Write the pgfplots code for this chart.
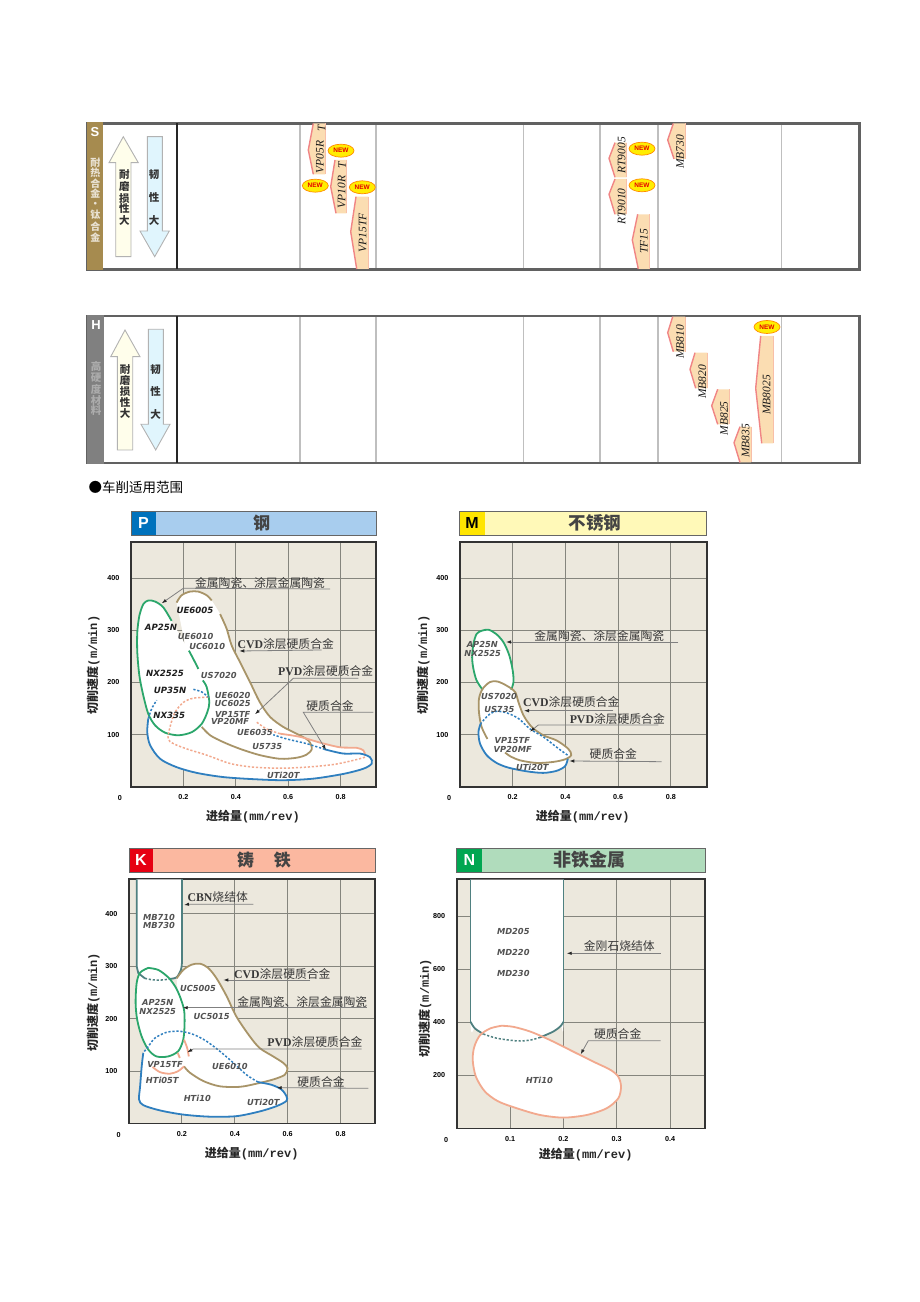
\documentclass[border=0pt]{standalone}
\usepackage{fontspec}
\setmainfont{Liberation Sans}
\newfontfamily\cjk{Noto Sans CJK SC}
\newfontfamily\model{DejaVu Sans}
\newfontfamily\lser{Liberation Serif}
\newfontfamily\lmono{Liberation Mono}
\usepackage{pgfplots}
\pgfplotsset{compat=1.18}
\usetikzlibrary{arrows.meta}

\definecolor{plotbg}{HTML}{ECE8DD}
\definecolor{cgreen}{HTML}{2BA66B}
\definecolor{cbrown}{HTML}{A89468}
\definecolor{cblue}{HTML}{2F7FBF}
\definecolor{csalmon}{HTML}{F2A98E}
\definecolor{cteal}{HTML}{4F8080}
\definecolor{cframe}{HTML}{333333}
\definecolor{cgrid}{HTML}{85857D}
\definecolor{ctext}{HTML}{444444}
\definecolor{bandfill}{HTML}{FBDDB2}
\definecolor{bandedge}{HTML}{F08585}
\definecolor{bandlight}{HTML}{F8BFA8}
\definecolor{sband}{HTML}{A68B4F}
\definecolor{hband}{HTML}{808080}
\definecolor{pbar}{HTML}{A8CDEE}
\definecolor{psq}{HTML}{0072BC}
\definecolor{mbar}{HTML}{FFF9B8}
\definecolor{msq}{HTML}{FFE500}
\definecolor{kbar}{HTML}{FBB8A0}
\definecolor{ksq}{HTML}{E60012}
\definecolor{nbar}{HTML}{B0DCBC}
\definecolor{nsq}{HTML}{00A651}

\pgfplotsset{
  rangeplot/.style={
    scale only axis, axis background/.style={fill=plotbg},
    xmin=0, ymin=0, grid=major,
    grid style={color=cgrid, line width=1pt},
    axis line style={color=cframe, line width=1.8pt},
    major tick length=0pt,
    tick label style={font=\bfseries\fontsize{7.2}{8}\selectfont, color=black},
    xticklabel style={yshift=-4pt},
    yticklabel style={xshift=-8pt},
  },
  barpanel/.style={
    scale only axis, y dir=reverse, xmin=87.5, xmax=859.5,
    xtick={300,376,523.5,600,658,781.5}, xticklabels={}, ytick=\empty,
    grid=major, grid style={color=black!25, line width=1.2pt},
    extra x ticks={177}, extra x tick labels={},
    extra x tick style={grid style={color=black!85, line width=1.2pt}},
    major tick length=0pt,
    axis line style={color=black!62, line width=2.2pt},
  },
  area/.style={fill=white, draw=none, smooth},
  solidc/.style={smooth, line width=1.8pt, color=#1},
  dashc/.style={smooth, line width=1.5pt, color=#1, dash pattern=on 2.2pt off 1.8pt},
}

% one range bar of the top panels: left edge xa,xb,xc at ya,yb,yc, right edge xr
\newcommand\band[7]{%
  \addplot[fill=bandfill, draw=none] coordinates {(#1,#5) (#2,#6) (#3,#7) (#4,#7) (#4,#5)};
  \addplot[color=bandedge, line width=1.4pt] coordinates {(#1,#5) (#2,#6) (#3,#7)};
  \addplot[color=bandlight, line width=1pt] coordinates {(#4,#5) (#4,#7)};
}

\newcommand\mb[3]{\node[font=\model\bfseries\itshape\fontsize{8.6}{9}\selectfont, color=black!88] at (#1,#2) {#3};}
\newcommand\mr[3]{\node[font=\model\bfseries\itshape\fontsize{8.3}{9}\selectfont, color=black!68] at (#1,#2) {#3};}
\newcommand\cn[3]{\node[font=\cjk\fontsize{11.8}{12}\selectfont, color=black!78] at (#1,#2) {#3};}
\newcommand\cvd{{\lser\bfseries CVD}涂层硬质合金}
\newcommand\pvd{{\lser\bfseries PVD}涂层硬质合金}
\newcommand\cermet{金属陶瓷、涂层金属陶瓷}
\newcommand\xl[2]{\node[font=\cjk\bfseries\fontsize{12}{13}\selectfont, color=black!85] at (#1,#2) {进给量{\lmono\bfseries(mm/rev)}};}
\newcommand\yl[2]{\node[font=\cjk\bfseries\fontsize{12}{13}\selectfont, rotate=90, color=black!85] at (#1,#2) {切削速度{\lmono\bfseries(m/min)}};}
\newcommand\nw[2]{%
  \fill[color=yellow!95!orange, draw=orange!90!yellow, line width=0.7pt] (#1,#2) ellipse (13 and 6.5);
  \node[font=\bfseries\fontsize{6.5}{6}\selectfont, color=red!90!black, inner sep=0pt] at (#1,#2) {NEW};
}
\newcommand\rt[3]{\node[font=\lser\itshape\fontsize{11.5}{12}\selectfont, rotate=90, color=black!90, inner sep=0pt] at (#1,#2) {#3};}

\begin{document}
\begin{tikzpicture}
\path (0,0) rectangle (920pt,1302pt);

% ---- S panel ----
\begin{axis}[barpanel, at={(87.5pt,1032.5pt)}, anchor=south west, width=772pt, height=146pt, ymin=123.5, ymax=269.5]
\band{313.3}{308.3}{313.3}{325}{123.5}{150}{174.3}
\band{335}{330.7}{336}{346.7}{160}{186.7}{213.3}
\band{356}{350.7}{356.7}{368.3}{196.7}{231.7}{269}
\band{615}{609}{615}{626.7}{142.7}{158.3}{177.3}
\band{615}{609}{615}{626.7}{179}{194.3}{214.3}
\band{637.7}{632.3}{638.3}{649.3}{214.3}{240}{269}
\band{673.3}{667.7}{674}{685}{123.5}{140}{159}
\end{axis}

% ---- H panel ----
\begin{axis}[barpanel, at={(87.5pt,839pt)}, anchor=south west, width=772pt, height=147pt, ymin=316, ymax=463]
\band{672.7}{667.7}{673.3}{685}{316.7}{332.7}{351.7}
\band{695}{690}{695.7}{707.3}{352.7}{369.3}{388.3}
\band{717.7}{711.7}{717.7}{729.3}{389.3}{405.7}{424.3}
\band{740}{734}{740}{751}{426.7}{442.7}{462.5}
\band{760.7}{755.7}{761.7}{773.3}{336}{388.3}{443.3}
\end{axis}

% ---- P: steel ----
\begin{axis}[rangeplot, at={(131pt,515pt)}, anchor=south west, width=245pt, height=245pt,
  xmax=0.935, ymax=469,
  xtick={0.2,0.4,0.6,0.8}, xticklabels={0.2,0.4,0.6,0.8},
  ytick={100,200,300,400}, yticklabels={100,200,300,400}]
\addplot[area] coordinates {(.155,318) (.123,344) (.092,355) (.066,357) (.047,350) (.032,328) (.024,296) (.024,258) (.032,213) (.047,175) (.066,140) (.092,118) (.130,104) (.181,99) (.232,105) (.270,121) (.291,143) (.299,162) (.289,191) (.274,204) (.257,226) (.238,245) (.221,261)};
\addplot[area] coordinates {(.174,353) (.193,367) (.225,374) (.257,374) (.289,367) (.308,357) (.340,331) (.365,303) (.384,271) (.416,239) (.454,201) (.492,162) (.531,134) (.581,115) (.632,102) (.677,89) (.690,73) (.670,62) (.632,56) (.569,54) (.492,61) (.416,73) (.352,86) (.302,99) (.270,115)};
\addplot[area] coordinates {(.066,131) (.062,105) (.073,80) (.111,54) (.174,38) (.251,27) (.352,19) (.467,15) (.581,13) (.696,16) (.810,25) (.887,35) (.919,45) (.912,57) (.874,64) (.810,64) (.740,72) (.670,83) (.594,92) (.543,100) (.295,172) (.238,187) (.098,166) (.079,150)};
\addplot[area] coordinates {(.569,102) (.645,96) (.721,85) (.798,76) (.861,75) (.887,70) (.893,62) (.893,57) (.874,60) (.740,70) (.569,92)};
% green
\addplot[solidc=cgreen] coordinates {(.155,318) (.123,344) (.092,355) (.066,357) (.047,350) (.032,328) (.024,296) (.024,258) (.032,213) (.047,175) (.066,140) (.092,118) (.130,104) (.181,99) (.232,105) (.270,121) (.291,143) (.299,162) (.289,191) (.274,204)};
\addplot[solidc=cgreen] coordinates {(.257,226) (.238,245) (.221,261)};
% brown
\addplot[solidc=cbrown] coordinates {(.174,353) (.193,367) (.225,374) (.257,374) (.289,367) (.308,357)};
\addplot[solidc=cbrown] coordinates {(.340,331) (.365,303) (.384,271) (.416,239) (.454,201) (.492,162) (.531,134) (.581,115) (.632,102) (.677,89) (.690,73) (.670,62) (.632,56) (.569,54) (.492,61) (.416,73) (.352,86) (.302,99) (.270,115)};
% salmon
\addplot[solidc=csalmon] coordinates {(.569,102) (.645,96) (.721,85) (.798,76) (.861,75) (.887,70) (.893,62)};
\addplot[dashc=csalmon] coordinates {(.893,57) (.849,51) (.772,43) (.670,38) (.569,36) (.467,38) (.378,45) (.289,61) (.212,73) (.162,83) (.142,92) (.149,115) (.168,143) (.200,162) (.238,170) (.295,172)};
\addplot[dashc=csalmon] coordinates {(.480,124) (.518,111) (.569,102)};
% blue
\addplot[solidc=cblue] coordinates {(.066,131) (.062,105) (.073,80) (.111,54) (.174,38) (.251,27) (.352,19) (.467,15) (.581,13) (.696,16) (.810,25) (.887,35) (.919,45) (.912,57) (.874,64) (.810,64) (.740,72)};
\addplot[dashc=cblue] coordinates {(.740,72) (.670,83) (.594,92) (.543,100)};
\addplot[dashc=cblue] coordinates {(.066,131) (.079,150) (.098,166)};
\addplot[dashc=cblue] coordinates {(.238,187) (.270,182) (.295,172)};
\end{axis}

% ---- M: stainless ----
\begin{axis}[rangeplot, at={(460pt,515pt)}, anchor=south west, width=246.7pt, height=245pt,
  xmax=0.936, ymax=469,
  xtick={0.2,0.4,0.6,0.8}, xticklabels={0.2,0.4,0.6,0.8},
  ytick={100,200,300,400}, yticklabels={100,200,300,400}]
\addplot[area] coordinates {(.086,186) (.063,204) (.051,226) (.046,248) (.051,274) (.063,293) (.082,299) (.108,301) (.137,293) (.165,277) (.187,252) (.200,223) (.203,201) (.194,186)};
\addplot[area] coordinates {(.104,92) (.082,115) (.072,143) (.072,169) (.086,188) (.114,201) (.142,202) (.177,194) (.209,182) (.222,162) (.241,137) (.272,115) (.316,99) (.367,89) (.411,73) (.422,61) (.399,53) (.354,48) (.291,46) (.228,51) (.190,59) (.171,66)};
\addplot[area] coordinates {(.078,121) (.070,105) (.076,83) (.101,61) (.139,46) (.184,37) (.253,30) (.316,27) (.367,31) (.399,40) (.409,54) (.408,61) (.367,76) (.316,96) (.266,111) (.222,131) (.177,142) (.139,145) (.114,140) (.095,131)};
\addplot[solidc=cgreen] coordinates {(.086,186) (.063,204) (.051,226) (.046,248) (.051,274) (.063,293) (.082,299) (.108,301) (.137,293) (.165,277) (.187,252) (.200,223) (.203,201) (.194,186)};
\addplot[solidc=cbrown] coordinates {(.104,92) (.082,115) (.072,143) (.072,169) (.086,188) (.114,201) (.142,202) (.177,194) (.209,182) (.222,162) (.241,137) (.272,115) (.316,99) (.367,89) (.411,73) (.422,61) (.399,53) (.354,48) (.291,46) (.228,51) (.190,59) (.171,66)};
\addplot[solidc=cblue] coordinates {(.078,121) (.070,105) (.076,83) (.101,61) (.139,46) (.184,37) (.253,30) (.316,27) (.367,31) (.399,40) (.409,54)};
\addplot[dashc=cblue] coordinates {(.408,61) (.367,76) (.316,96) (.266,111) (.222,131) (.177,142) (.139,145) (.114,140) (.095,131) (.078,121)};
\end{axis}

% ---- K: cast iron ----
\begin{axis}[rangeplot, at={(129pt,178.5pt)}, anchor=south west, width=246.3pt, height=244.5pt,
  xmax=0.931, ymax=466.6,
  xtick={0.2,0.4,0.6,0.8}, xticklabels={0.2,0.4,0.6,0.8},
  ytick={100,200,300,400}, yticklabels={100,200,300,400}]
\addplot[area] coordinates {(.029,466) (.029,300) (.035,287) (.060,277) (.092,274) (.130,274) (.155,276) (.180,279) (.196,293) (.200,306) (.200,466)};
\addplot[area] coordinates {(.073,297) (.042,288) (.029,268) (.025,230) (.031,198) (.048,166) (.073,141) (.104,128) (.148,128) (.186,138) (.205,160) (.210,189) (.208,217) (.192,243) (.174,262) (.148,279) (.111,293)};
\addplot[area] coordinates {(.180,277) (.205,293) (.236,303) (.268,305) (.299,297) (.331,277) (.369,243) (.406,204) (.457,166) (.494,144) (.545,128) (.582,116) (.599,106) (.589,93) (.545,84) (.482,76) (.419,70) (.343,71) (.281,81) (.230,97) (.208,109)};
\addplot[area] coordinates {(.054,135) (.048,109) (.042,71) (.038,46) (.054,35) (.117,25) (.205,17) (.306,13) (.406,14) (.494,23) (.557,33) (.595,43) (.595,52) (.576,65) (.538,74) (.488,79) (.444,93) (.394,116) (.343,138) (.293,157) (.243,170) (.192,176) (.142,174) (.098,163) (.073,147)};
\addplot[line width=1.8pt, color=cteal] coordinates {(.029,466) (.029,300) (.035,287) (.060,277)};
\addplot[dashc=cteal] coordinates {(.060,277) (.092,274) (.130,274) (.155,276)};
\addplot[smooth, line width=1.8pt, color=cteal] coordinates {(.155,276) (.180,279) (.196,293) (.200,306)};
\addplot[line width=1.8pt, color=cteal] coordinates {(.200,306) (.200,466)};
\addplot[solidc=cgreen] coordinates {(.073,297) (.042,288) (.029,268) (.025,230) (.031,198) (.048,166) (.073,141) (.104,128) (.148,128) (.186,138) (.205,160) (.210,189) (.208,217) (.192,243) (.174,262) (.148,279) (.111,293) (.073,297)};
\addplot[solidc=cbrown] coordinates {(.180,277) (.205,293) (.236,303) (.268,305) (.299,297) (.331,277) (.369,243) (.406,204) (.457,166) (.494,144) (.545,128) (.582,116) (.599,106) (.589,93) (.545,84) (.482,76) (.419,70) (.343,71) (.281,81) (.230,97) (.208,109)};
\addplot[solidc=csalmon] coordinates {(.208,160) (.220,144) (.226,128)};
\addplot[solidc=csalmon] coordinates {(.089,108) (.117,98) (.155,95) (.186,100) (.208,109)};
\addplot[solidc=csalmon] coordinates {(.184,135) (.192,125)};
\addplot[solidc=cblue] coordinates {(.054,135) (.048,109) (.042,71) (.038,46) (.054,35) (.117,25) (.205,17) (.306,13) (.406,14) (.494,23) (.557,33) (.595,43) (.595,52) (.576,65) (.538,74) (.488,79)};
\addplot[dashc=cblue] coordinates {(.488,79) (.444,93) (.394,116) (.343,138) (.293,157) (.243,170) (.192,176) (.142,174) (.098,163) (.073,147) (.054,135)};
\end{axis}

% ---- N: non-ferrous ----
\begin{axis}[rangeplot, at={(456.7pt,173.5pt)}, anchor=south west, width=248.6pt, height=249.2pt,
  xmax=0.466, ymax=938.6,
  xtick={0.1,0.2,0.3,0.4}, xticklabels={0.1,0.2,0.3,0.4},
  ytick={200,400,600,800}, yticklabels={200,400,600,800}]
\addplot[area] coordinates {(.026,937) (.026,402) (.034,377) (.050,356) (.075,340) (.113,330) (.138,333) (.156,343) (.181,365) (.195,386) (.200,402) (.200,937)};
\addplot[area] coordinates {(.084,387) (.063,377) (.044,352) (.033,308) (.030,258) (.036,195) (.053,139) (.078,102) (.113,76) (.156,51) (.200,41) (.244,51) (.281,76) (.303,114) (.308,158) (.303,195) (.288,221) (.256,252) (.219,289) (.175,333) (.138,365) (.106,383)};
\addplot[line width=1.8pt, color=cteal] coordinates {(.026,938) (.026,402)};
\addplot[solidc=cteal] coordinates {(.026,402) (.034,377) (.050,356)};
\addplot[dashc=cteal] coordinates {(.050,356) (.075,340) (.113,330) (.138,333) (.156,343)};
\addplot[solidc=cteal] coordinates {(.156,343) (.181,365) (.195,386) (.200,402)};
\addplot[line width=1.8pt, color=cteal] coordinates {(.200,402) (.200,938)};
\addplot[solidc=csalmon] coordinates {(.084,387) (.063,377) (.044,352) (.033,308) (.030,258) (.036,195) (.053,139) (.078,102) (.113,76) (.156,51) (.200,41) (.244,51) (.281,76) (.303,114) (.308,158) (.303,195) (.288,221) (.256,252) (.219,289) (.175,333) (.138,365) (.106,383) (.084,387)};
\end{axis}

% ---- everything below in page pixels, y downwards ----
\begin{scope}[x=1pt, y=-1pt, shift={(0pt,1302pt)},
  lead/.style={color=black!50, line width=0.8pt, -{Latex[length=5pt,width=3.5pt,color=black!85]}}]

% side bands of the top panels
\fill[color=sband] (86.5,122.5) rectangle (103.3,270.5);
\fill[color=hband] (87,315) rectangle (104,464);
\node[font=\bfseries\fontsize{13}{13}\selectfont, color=white] at (95,131.7) {S};
\node[font=\bfseries\fontsize{13}{13}\selectfont, color=white] at (96,324.7) {H};
\foreach \y/\c in {162.3/耐,172.3/热,183.3/合,193.3/金,205/·,215/钛,226.7/合,237.7/金}
  \node[font=\cjk\bfseries\fontsize{10}{10}\selectfont, color=white!75!sband, inner sep=0pt] at (95.3,\y) {\c};
\foreach \y/\c in {366.7/高,377.7/硬,389.3/度,400.7/材,411/料}
  \node[font=\cjk\bfseries\fontsize{10.5}{10}\selectfont, color=white!35!hband, inner sep=0pt] at (96,\y) {\c};

% arrows S
\filldraw[fill=yellow!8, draw=black!30, line width=0.9pt] (123.3,136.7) -- (138.3,162.7) -- (131,162.7) -- (131,256.7) -- (115.7,256.7) -- (115.7,162.7) -- (109,162.7) -- cycle;
\filldraw[fill=cyan!12, draw=black!30, line width=0.9pt] (147.3,136.7) -- (162.3,136.7) -- (162.3,231) -- (169.3,231) -- (154.7,256.7) -- (140,231) -- (147.3,231) -- cycle;
\foreach \y/\c in {175/耐,186.7/磨,198.3/损,209/性,220/大}
  \node[font=\cjk\bfseries\fontsize{10.5}{10}\selectfont, color=black!80, inner sep=0pt] at (124.3,\y) {\c};
\foreach \y/\c in {175/韧,197.7/性,220/大}
  \node[font=\cjk\bfseries\fontsize{10.5}{10}\selectfont, color=black!80, inner sep=0pt] at (154,\y) {\c};
% arrows H
\filldraw[fill=yellow!8, draw=black!30, line width=0.9pt] (125,330) -- (140,356.7) -- (132.7,356.7) -- (132.7,450) -- (117.3,450) -- (117.3,356.7) -- (110.7,356.7) -- cycle;
\filldraw[fill=cyan!12, draw=black!30, line width=0.9pt] (148.3,329.3) -- (163.3,329.3) -- (163.3,424.3) -- (170,424.3) -- (155.7,450) -- (141,424.3) -- (148.3,424.3) -- cycle;
\foreach \y/\c in {369.3/耐,380.7/磨,391.7/损,402.7/性,413.3/大}
  \node[font=\cjk\bfseries\fontsize{10.5}{10}\selectfont, color=black!80, inner sep=0pt] at (125,\y) {\c};
\foreach \y/\c in {369.3/韧,391.7/性,414/大}
  \node[font=\cjk\bfseries\fontsize{10.5}{10}\selectfont, color=black!80, inner sep=0pt] at (155.7,\y) {\c};

% grade names S
\rt{320}{157}{VP05R}
\rt{321.5}{128}{T}
\rt{341.7}{192}{VP10R}
\rt{342}{165}{T}
\rt{362.7}{233}{VP15TF}
\rt{621.7}{155.3}{RT9005}
\rt{621.7}{206.7}{RT9010}
\rt{644}{241.3}{TF15}
\rt{680}{152}{MB730}
\nw{341}{150.7}\nw{315.3}{185.7}\nw{362.3}{187.3}\nw{642}{148.7}\nw{642}{185.3}
% grade names H
\rt{680}{342}{MB810}
\rt{702.3}{381.7}{MB820}
\rt{724}{418.3}{MB825}
\rt{745.7}{441}{MB835}
\rt{766.7}{395}{MB8025}
\nw{767}{327}

\node[font=\cjk\fontsize{13.5}{14}\selectfont, anchor=west, inner sep=0pt] at (88.5,487.5) {●车削适用范围};

% header bars
\fill[color=pbar] (131,511.7) rectangle (376,535.7);
\fill[color=psq] (131,511.7) rectangle (156,535.7);
\draw[color=black!60, line width=0.8pt] (131,511.7) rectangle (376,535.7);
\node[font=\bfseries\fontsize{16}{16}\selectfont, color=white] at (143.5,523.5) {P};
\node[font=\cjk\bfseries\fontsize{17}{17}\selectfont, color=ctext] at (261.7,523.3) {钢};

\fill[color=mbar] (459.3,511.7) rectangle (706.7,535.7);
\fill[color=msq] (459.3,511.7) rectangle (485,535.7);
\draw[color=black!60, line width=0.8pt] (459.3,511.7) rectangle (706.7,535.7);
\node[font=\bfseries\fontsize{16}{16}\selectfont] at (472,523.5) {M};
\node[font=\cjk\bfseries\fontsize{17.5}{18}\selectfont, color=ctext] at (595,523.3) {不锈钢};

\fill[color=kbar] (129,848.3) rectangle (375.3,872.3);
\fill[color=ksq] (129,848.3) rectangle (153.3,872.3);
\draw[color=black!60, line width=0.8pt] (129,848.3) rectangle (375.3,872.3);
\node[font=\bfseries\fontsize{16}{16}\selectfont, color=white] at (141,860.2) {K};
\node[font=\cjk\bfseries\fontsize{17}{17}\selectfont, color=ctext] at (245.7,860) {铸};
\node[font=\cjk\bfseries\fontsize{17}{17}\selectfont, color=ctext] at (282.3,860) {铁};

\fill[color=nbar] (456.7,848.3) rectangle (705.3,872.3);
\fill[color=nsq] (456.7,848.3) rectangle (482.3,872.3);
\draw[color=black!60, line width=0.8pt] (456.7,848.3) rectangle (705.3,872.3);
\node[font=\bfseries\fontsize{16}{16}\selectfont, color=white] at (469.5,860.2) {N};
\node[font=\cjk\bfseries\fontsize{18}{18}\selectfont, color=ctext] at (589,860) {非铁金属};

% axis names and zero labels
\xl{253}{816.7}\yl{93.3}{665}
\xl{582.7}{816.7}\yl{423.3}{665}
\xl{251.7}{1153.3}\yl{93.3}{1002.3}
\xl{585.7}{1155}\yl{425}{1008}
\foreach \x/\y in {120/798,449/798,118.7/1135,446/1140}
  \node[font=\bfseries\fontsize{7.2}{8}\selectfont] at (\x,\y) {0};

% P labels
\cn{260}{583.3}{\cermet}
\draw[lead] (330,589) -- (183.3,588.3) -- (161.7,603.3);
\mb{195}{610.3}{UE6005}\mb{161}{627}{AP25N}
\mr{195.7}{636}{UE6010}\mr{207.3}{646}{UC6010}
\cn{285.7}{644.3}{\cvd}
\draw[lead] (321.7,650) -- (239.3,651);
\mb{165}{673.7}{NX2525}\mr{218.7}{675.7}{US7020}
\cn{325.7}{670.7}{\pvd}
\draw[lead] (358.3,678.3) -- (293.3,678.3) -- (255,714.3);
\mb{170}{690.3}{UP35N}\mr{232.7}{695.7}{UE6020}\mr{232.7}{703.7}{UC6025}
\mb{169.3}{715}{NX335}\mr{232.7}{714.3}{VP15TF}\mr{230}{721.7}{VP20MF}
\cn{330}{706}{硬质合金}
\draw[lead] (373.3,712.3) -- (303.3,712.3) -- (326,750);
\mr{255}{732.3}{UE6035}\mr{267.3}{746.3}{U5735}\mr{283.3}{775.3}{UTi20T}

% M labels
\cn{599.3}{636}{\cermet}
\draw[lead] (678.3,642) -- (506,642);
\mr{482.3}{644.3}{AP25N}\mr{482.7}{653.7}{NX2525}
\mr{499}{696.3}{US7020}\mr{499.3}{709}{US735}
\cn{571.3}{701.7}{\cvd}
\draw[lead] (613.3,710.7) -- (524,710.7);
\cn{617.3}{719.3}{\pvd}
\draw[lead] (658.3,725) -- (538.3,725) -- (530,731.7);
\mr{512.3}{741}{VP15TF}\mr{512.7}{749}{VP20MF}
\cn{613.3}{754.3}{硬质合金}
\draw[lead] (661.7,761.7) -- (569.3,761);
\mr{532.3}{767}{UTi20T}

% K labels
\cn{217.7}{896.7}{{\lser\bfseries CBN}烧结体}
\draw[lead] (253.3,904.3) -- (188.3,904.3) -- (184,905);
\mr{159}{917.3}{MB710}\mr{159}{925}{MB730}
\cn{282.3}{974.3}{\cvd}
\draw[lead] (310,980) -- (223.3,980);
\mr{198}{988.7}{UC5005}
\cn{302.3}{1001.7}{\cermet}
\draw[lead] (366.7,1007.7) -- (182.7,1007.7);
\mr{157.7}{1002.7}{AP25N}\mr{157.7}{1011.3}{NX2525}
\mr{211.7}{1016.7}{UC5015}
\cn{315}{1042.3}{\pvd}
\draw[lead] (361.7,1049) -- (193.3,1049) -- (187.3,1052.3);
\mr{165}{1064.3}{VP15TF}\mr{162.3}{1080.7}{HTi05T}
\mr{230}{1066.7}{UE6010}\mr{197.3}{1098.3}{HTi10}\mr{263.3}{1102.3}{UTi20T}
\cn{321}{1081.7}{硬质合金}
\draw[lead] (368.3,1088.3) -- (276.7,1087.7);

% N labels
\mr{513.3}{931.7}{MD205}\mr{513.3}{952.3}{MD220}\mr{513.3}{973.3}{MD230}
\cn{619.3}{946}{金刚石烧结体}
\draw[lead] (660.7,953.3) -- (566.7,953.3);
\cn{617.7}{1034.3}{硬质合金}
\draw[lead] (660.7,1040.7) -- (588.3,1040.7) -- (580.7,1054.3);
\mr{539.3}{1080.7}{HTi10}
\end{scope}
\end{tikzpicture}
\end{document}
